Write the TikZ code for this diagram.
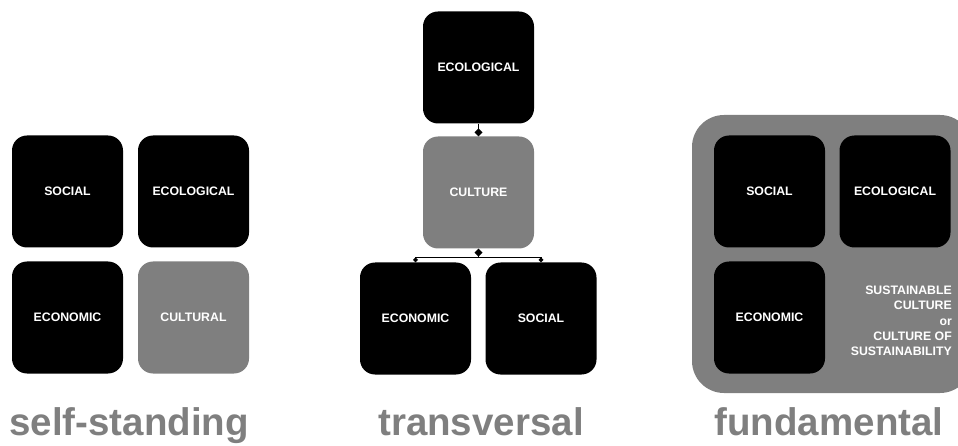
\documentclass[tikz,border=0pt]{standalone}
\usepackage{fontspec}
\setmainfont{Liberation Sans}
\usetikzlibrary{arrows.meta}
\definecolor{cgray}{HTML}{7F7F7F}
\tikzset{
  box/.style={rectangle, rounded corners=15pt, minimum width=111pt, minimum height=112pt,
    inner sep=0pt, text=white, font=\fontsize{12.3}{14}\selectfont\bfseries},
  blackbox/.style={box, fill=black},
  graybox/.style={box, fill=cgray},
  caption/.style={text=cgray, font=\fontsize{38.5}{40}\selectfont\bfseries, anchor=base},
  conn/.style={line width=1.5pt, draw=black}
}
\begin{document}
\begin{tikzpicture}[x=1pt,y=-1pt]
\useasboundingbox (0,0) rectangle (958,446);
% left group
\node[blackbox] (ls) at (67.5,191.5) {SOCIAL};
\node[blackbox] (le) at (193.5,191.5) {ECOLOGICAL};
\node[blackbox] (lc) at (67.5,317.5) {ECONOMIC};
\node[graybox] (lu) at (193.5,317.5) {CULTURAL};
\node[caption] (cap1) at (129,435) {self-standing};
% middle group
\node[blackbox] (me) at (478.5,67.5) {ECOLOGICAL};
\node[graybox] (mu) at (478.5,192.5) {CULTURE};
\node[blackbox] (mc) at (415.5,318.5) {ECONOMIC};
\node[blackbox] (ms) at (541,318.5) {SOCIAL};
\node[caption] (cap2) at (481,435) {transversal};
\draw[conn, -{Diamond[length=8pt,width=8pt]}] (me.south) -- (mu.north);
\draw[conn, {Diamond[length=8pt,width=8pt]}-{Diamond[length=5pt,width=5pt]}] (mu.south) -- ++(0,9) coordinate (mj) -| (mc.north);
\draw[conn, -{Diamond[length=5pt,width=5pt]}] (mj) -| (ms.north);
% right group
\node[rectangle, fill=cgray, rounded corners=32pt, minimum width=280pt, minimum height=278pt, inner sep=0pt] (rb) at (832,254) {};
\node[blackbox] (rs) at (769.5,191.5) {SOCIAL};
\node[blackbox] (re) at (895,191.5) {ECOLOGICAL};
\node[blackbox] (rc) at (769.5,317.5) {ECONOMIC};
\node[text=white, font=\fontsize{12.3}{15.25}\selectfont\bfseries, align=right, anchor=east, inner sep=0pt] (rt) at (952,321) {SUSTAINABLE\\CULTURE\\or\\CULTURE OF\\SUSTAINABILITY};
\node[caption] (cap3) at (829,435) {fundamental};
\end{tikzpicture}
\end{document}
